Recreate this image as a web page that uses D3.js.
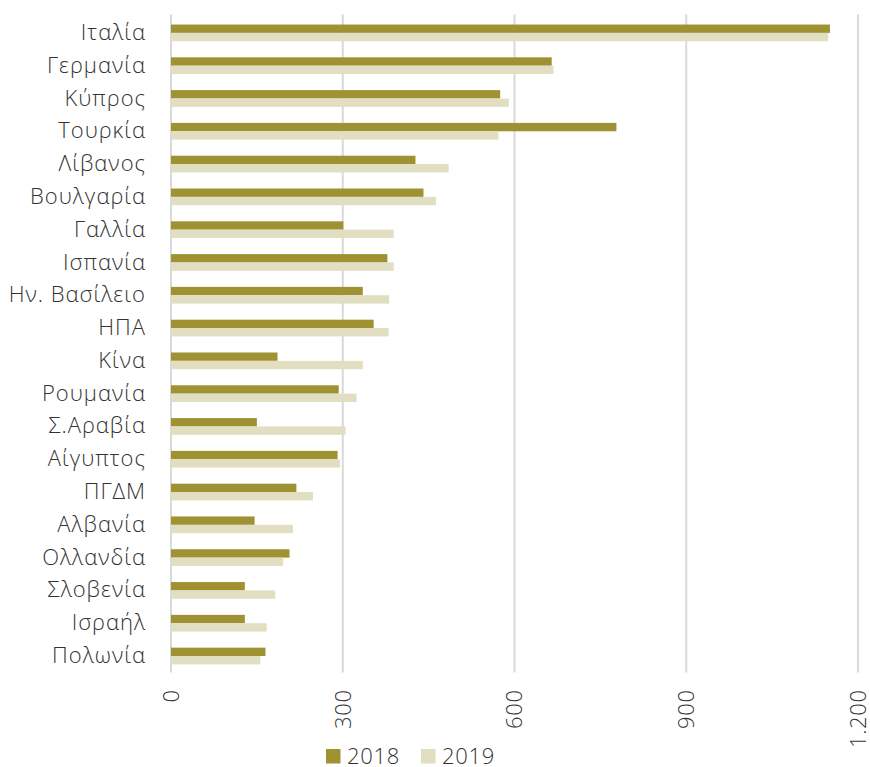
<!DOCTYPE html>
<html>
<head>
<meta charset="utf-8">
<script src="https://cdn.jsdelivr.net/npm/d3@7"></script>
<style>
  html, body { margin: 0; padding: 0; background: #fff; }
  svg { display: block; font-family: "Open Sans", sans-serif; font-weight: 300; }
</style>
</head>
<body>
<svg id="chart" width="870" height="767"></svg>
<script>
// Countries, top to bottom
const categories = [
  "Ιταλία", "Γερμανία", "Κύπρος", "Τουρκία", "Λίβανος", "Βουλγαρία", "Γαλλία",
  "Ισπανία", "Ην. Βασίλειο", "ΗΠΑ", "Κίνα", "Ρουμανία", "Σ.Αραβία", "Αίγυπτος",
  "ΠΓΔΜ", "Αλβανία", "Ολλανδία", "Σλοβενία", "Ισραήλ", "Πολωνία"
];
const values2018 = [1151, 665, 575, 778, 427, 441, 301, 378, 335, 354, 186, 293, 150, 291, 219, 146, 207, 129, 129, 165];
const values2019 = [1148, 668, 590, 572, 485, 463, 389, 389, 381, 380, 335, 324, 305, 295, 248, 213, 196, 182, 167, 156];
const seriesNames = ["2018", "2019"];
const tickValues = [0, 300, 600, 900, 1200];

const colors = { "2018": "#9f9233", "2019": "#e1dec1" };
const seriesValues = { "2018": values2018, "2019": values2019 };
const textColor = "#333333";

const svg = d3.select("#chart");
const margin = { left: 171, right: 12, top: 16.5, bottom: 94.6 };
const W = 870, H = 767;

const x = d3.scaleLinear().domain([0, 1200]).range([margin.left, 858]);
const y = d3.scaleBand().domain(categories)
  .range([margin.top, H - margin.bottom])
  .paddingInner(0.49).paddingOuter(0.245);
const ySub = d3.scaleBand().domain(seriesNames).range([0, y.bandwidth()]);

const fmt = v => d3.format(",")(v).replace(/,/g, ".");

// vertical gridlines
svg.append("g")
  .selectAll("line")
  .data(tickValues)
  .join("line")
  .attr("x1", d => x(d)).attr("x2", d => x(d))
  .attr("y1", margin.top - 2).attr("y2", H - margin.bottom)
  .attr("stroke", "#d9d9d9")
  .attr("stroke-width", 2);

// bars
const groups = svg.append("g")
  .selectAll("g")
  .data(categories)
  .join("g")
  .attr("transform", d => `translate(0,${y(d)})`);

groups.selectAll("rect")
  .data((d, i) => seriesNames.map(s => ({ s, v: seriesValues[s][i] })))
  .join("rect")
  .attr("x", x(0))
  .attr("y", d => ySub(d.s))
  .attr("width", d => x(d.v) - x(0))
  .attr("height", ySub.bandwidth())
  .attr("fill", d => colors[d.s]);

// category axis
const yAxis = svg.append("g")
  .attr("transform", `translate(${margin.left},0)`)
  .call(d3.axisLeft(y).tickSize(0).tickPadding(25));
yAxis.select(".domain").remove();
yAxis.selectAll("text")
  .attr("font-size", 22)
  .attr("letter-spacing", "1px")
  .attr("font-family", "'Open Sans', sans-serif")
  .attr("font-weight", 300)
  .attr("fill", textColor);

// value axis with rotated labels
const xAxis = svg.append("g")
  .attr("transform", `translate(0,${H - margin.bottom})`)
  .call(d3.axisBottom(x).tickValues(tickValues).tickFormat(fmt).tickSize(0));
xAxis.select(".domain").remove();
xAxis.selectAll("text")
  .attr("font-size", 22)
  .attr("letter-spacing", "0.6px")
  .attr("font-family", "'Open Sans', sans-serif")
  .attr("font-weight", 300)
  .attr("fill", textColor)
  .attr("text-anchor", "end")
  .attr("dy", "0.33em")
  .attr("transform", "translate(0,17) rotate(-90)")
  .attr("y", 0)
  .attr("x", 0);

// legend
const legend = svg.append("g").attr("transform", "translate(326,749)");
const items = legend.selectAll("g")
  .data(seriesNames)
  .join("g")
  .attr("transform", (d, i) => `translate(${i * 95},0)`);
items.append("rect")
  .attr("width", 14.5).attr("height", 14.5)
  .attr("fill", d => colors[d]);
items.append("text")
  .attr("x", 21).attr("y", 14.5)
  .attr("font-size", 22)
  .attr("letter-spacing", "0.7px")
  .attr("fill", textColor)
  .text(d => d);
</script>
</body>
</html>
